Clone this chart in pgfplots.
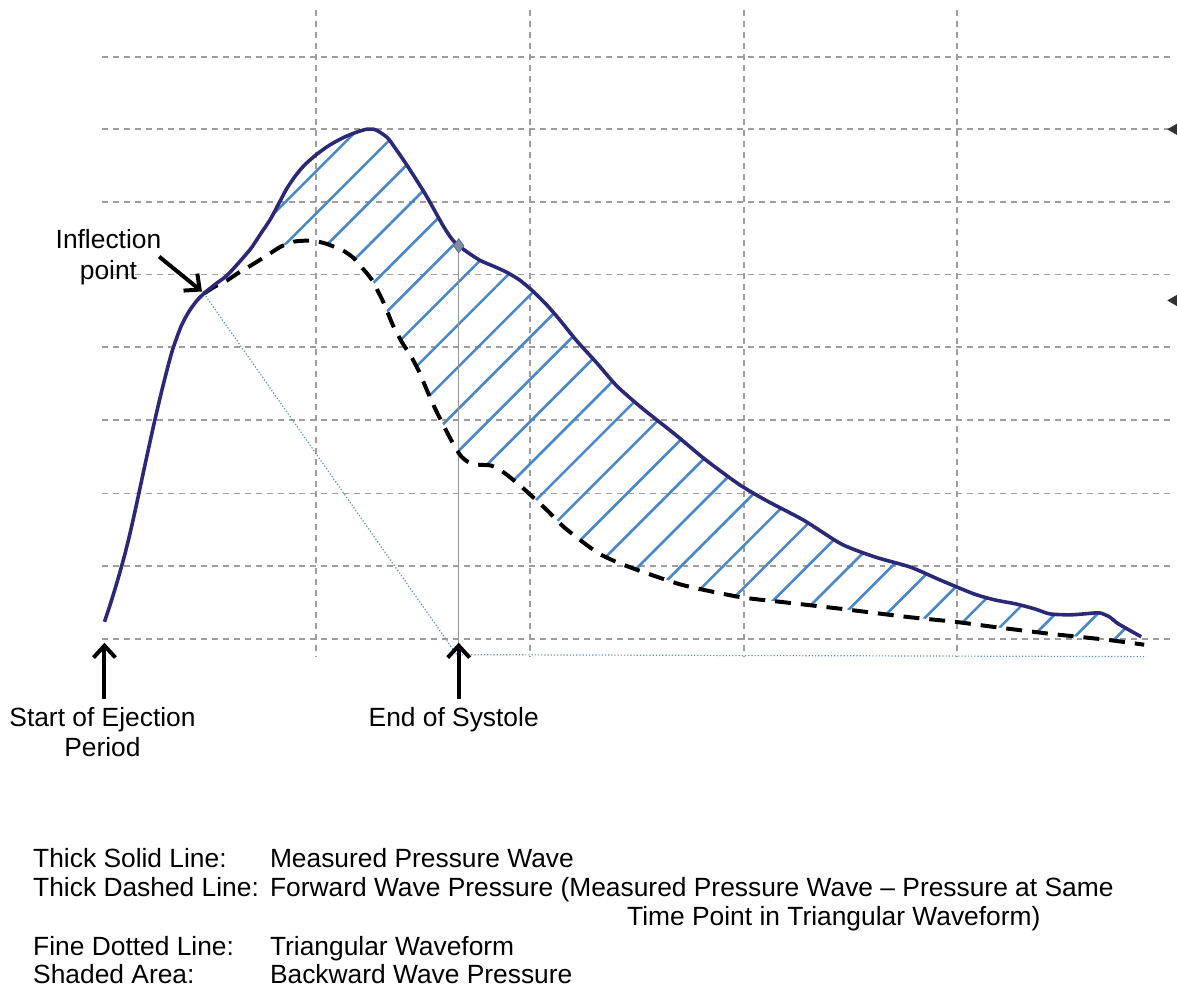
\documentclass[border=0pt]{standalone}
\usepackage{fontspec}
\setmainfont{Liberation Sans}
\usepackage{pgfplots}
\pgfplotsset{compat=1.18}
\usepgfplotslibrary{fillbetween}
\usetikzlibrary{patterns.meta,arrows.meta}
\definecolor{navy}{RGB}{44,40,120}
\definecolor{hatch}{RGB}{74,134,200}
\definecolor{gridgray}{RGB}{158,158,158}
\definecolor{dotblue}{RGB}{90,140,205}
\definecolor{sysgray}{RGB}{150,150,150}
\definecolor{mkgray}{RGB}{125,140,165}

\pgfplotstableread{
x y
105 625
110 610
115 594
120 577
125 559
130 539
135 517
140 494
146 466
155 425
164 387
173 353
182 328
190 313
198 302
205 295
216 286
228 277
240 264
252 250
262 235
272 220
280 205
288 190
296 178
305 167
316 157
328 148
338 142
348 137
358 133
368 130
376 130
382 133
390 139
398 150
407 163
418 180
428 196
437 212
446 228
454 240
461 247
472 255
483 262
497 268
510 274
523 282
536 293
550 307
563 322
580 343
600 365
620 388
645 410
679 437
709 462
743 487
770 503
808 523
846 547
880 560
915 570
945 583
979 597
1000 603
1021 607
1040 612
1055 617
1075 618
1090 617
1105 616
1115 620
1124 627
1147 640
}\measured

\pgfplotstableread{
x y
205 295
216 288
228 282
240 274
252 267
268 257
282 248
295 243
305 242
315 242
328 245
345 252
355 259
362 267
369 275
375 283
380 293
385 303
390 315
395 327
404 344
413 358
421 373
429 392
437 410
447 430
456 447
463 458
470 464
480 467
494 468
505 474
513 480
525 490
536 500
550 513
567 530
590 548
603 557
620 565
641 573
686 588
743 600
785 605
846 612
911 620
960 625
998 630
1055 637
1112 643
1150 648
}\forward

\begin{document}
\begin{tikzpicture}[font=\fontsize{13.25}{15}\selectfont]
\begin{axis}[
  width=537pt, height=325pt, scale only axis,
  xmin=103, xmax=1177, ymin=10, ymax=660, y dir=reverse,
  xtick={318,533,748,962},
  ytick={57,130,203,276,349,422,496,569,642},
  xticklabels={}, yticklabels={},
  axis line style={draw=none}, tick style={draw=none},
  grid=major,
  major grid style={gridgray, line width=0.9pt, dash pattern=on 3pt off 2.5pt},
  clip=false,
]
% bounding box of the whole figure
\path (axis cs:0,0) rectangle (axis cs:1177,999);

\addplot[name path=meas, draw=none, forget plot] table[x=x,y=y]{\measured};
\addplot[name path=fwd, draw=none, forget plot] table[x=x,y=y]{\forward};

\addplot[draw=none, pattern={Lines[angle=45,distance=15pt,line width=1.3pt]}, pattern color=hatch]
  fill between[of=meas and fwd, soft clip={domain=205:1150}];

% triangular waveform (fine dotted)
\addplot[dotblue, line width=0.6pt, densely dotted] coordinates {(205,295) (459,658) (1152,660)};

% end of systole line
\addplot[sysgray, line width=0.8pt] coordinates {(461,247) (461,660)};

% forward wave (thick dashed)
\addplot[black, line width=2pt, dash pattern=on 8pt off 5pt, smooth, tension=0.4] table[x=x,y=y]{\forward};

% measured wave (thick solid)
\addplot[navy, line width=1.8pt, smooth, tension=0.4] table[x=x,y=y]{\measured};

% marker at end of systole
\addplot[only marks, mark=diamond*, mark size=3.5pt, mark options={fill=mkgray, draw=mkgray!80!black, line width=0.4pt}] coordinates {(461,247)};

% clipped markers at right edge
\addplot[only marks, mark=triangle*, mark size=3pt, mark options={rotate=90, fill=black!80, draw=black!80}] coordinates {(1180,130) (1180,302)};

% arrows
\draw[line width=2pt, -{Straight Barb[length=6pt,width=11pt,line width=2pt]}] (axis cs:105,703) -- (axis cs:105,646);
\draw[line width=2pt, -{Straight Barb[length=6pt,width=11pt,line width=2pt]}] (axis cs:461,703) -- (axis cs:461,646);
\draw[line width=2pt, -{Straight Barb[length=6pt,width=11pt,line width=2pt]}] (axis cs:160,258) -- (axis cs:203,293);

% labels
\node[anchor=base] at (axis cs:109,250) {Inflection};
\node[anchor=base] at (axis cs:109,281) {point};
\node[anchor=base] at (axis cs:103,730) {Start of Ejection};
\node[anchor=base] at (axis cs:103,760) {Period};
\node[anchor=base] at (axis cs:456,730) {End of Systole};

% legend text
\node[anchor=base west, inner sep=0pt] at (axis cs:33,872) {Thick Solid Line:};
\node[anchor=base west, inner sep=0pt] at (axis cs:271,872) {Measured Pressure Wave};
\node[anchor=base west, inner sep=0pt] at (axis cs:33,901) {Thick Dashed Line:};
\node[anchor=base west, inner sep=0pt] at (axis cs:271,901) {Forward Wave Pressure (Measured Pressure Wave – Pressure at Same};
\node[anchor=base west, inner sep=0pt] at (axis cs:630,930) {Time Point in Triangular Waveform)};
\node[anchor=base west, inner sep=0pt] at (axis cs:33,960) {Fine Dotted Line:};
\node[anchor=base west, inner sep=0pt] at (axis cs:271,960) {Triangular Waveform};
\node[anchor=base west, inner sep=0pt] at (axis cs:33,989) {Shaded Area:};
\node[anchor=base west, inner sep=0pt] at (axis cs:271,989) {Backward Wave Pressure};
\end{axis}
\end{tikzpicture}
\end{document}
